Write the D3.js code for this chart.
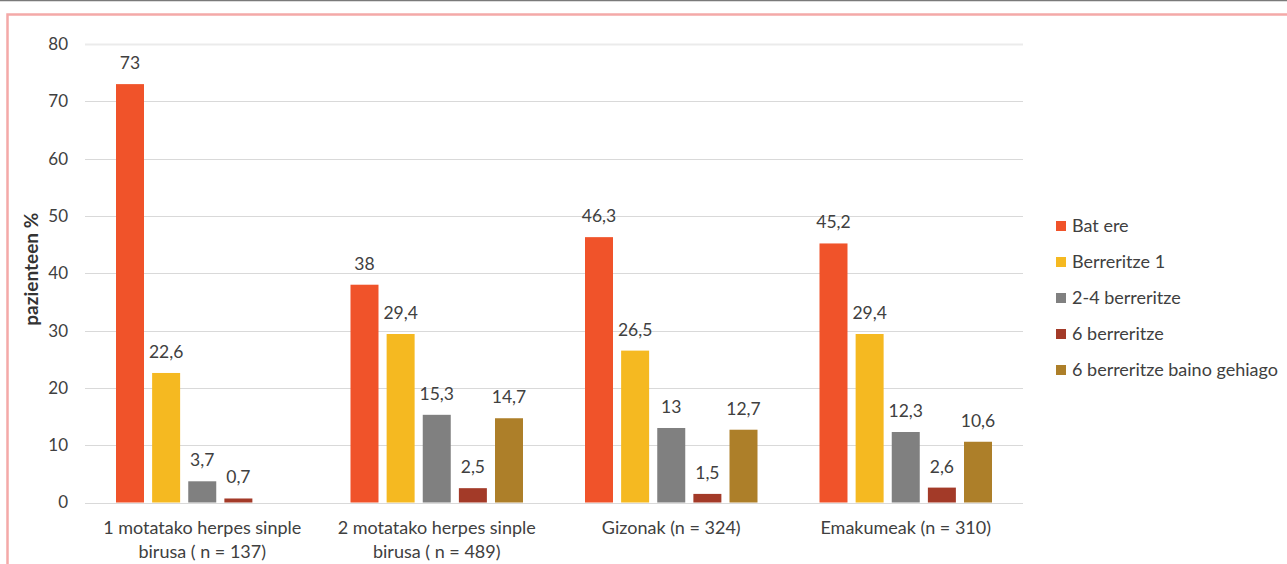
<!DOCTYPE html>
<html>
<head>
<meta charset="utf-8">
<script src="https://cdn.jsdelivr.net/npm/d3@7"></script>
<style>
  html, body { margin: 0; padding: 0; background: #fff; }
  svg { display: block; font-family: Lato, "Open Sans", sans-serif; }
</style>
</head>
<body>
<svg id="chart" width="1287" height="564"></svg>
<script>
// Categories (each label split into display lines)
const categories = [
  ["1 motatako herpes sinple", "birusa ( n = 137)"],
  ["2 motatako herpes sinple", "birusa ( n = 489)"],
  ["Gizonak (n = 324)"],
  ["Emakumeak (n = 310)"]
];
const seriesNames = ["Bat ere", "Berreritze 1", "2-4 berreritze", "6 berreritze", "6 berreritze baino gehiago"];
const seriesColors = ["#F0532A", "#F5B921", "#808080", "#A33A28", "#AD7F29"];
// Percentage of patients per series, one value per category (null = no bar)
const batEre = [73, 38, 46.3, 45.2];
const berreritze1 = [22.6, 29.4, 26.5, 29.4];
const berreritze24 = [3.7, 15.3, 13, 12.3];
const berreritze6 = [0.7, 2.5, 1.5, 2.6];
const berreritze6Plus = [null, 14.7, 12.7, 10.6];
const yTicks = [0, 10, 20, 30, 40, 50, 60, 70, 80];

const series = [batEre, berreritze1, berreritze24, berreritze6, berreritze6Plus];

const svg = d3.select("#chart");
const W = 1287, H = 564;

// Outer frame lines
svg.append("line").attr("x1", 0).attr("x2", W).attr("y1", 0.5).attr("y2", 0.5)
  .attr("stroke", "#7a7a7a").attr("stroke-width", 1.5);
svg.append("path")
  .attr("d", `M${W + 5},14.5 H7.5 V${H + 5}`)
  .attr("fill", "none").attr("stroke", "#F4A9A8").attr("stroke-width", 2.5);

const plot = { left: 85, right: 1023, top: 44, bottom: 502.5 };

const x0 = d3.scaleBand().domain(d3.range(categories.length))
  .range([plot.left, plot.right]).padding(0);
const groupPad = 31;
const x1 = d3.scaleBand().domain(d3.range(seriesNames.length))
  .range([groupPad, x0.bandwidth() - groupPad]).paddingInner(0.225).paddingOuter(0);
const y = d3.scaleLinear().domain([0, 80]).range([plot.bottom, plot.top]);

// Gridlines
svg.append("g").selectAll("line").data(yTicks).join("line")
  .attr("x1", plot.left).attr("x2", plot.right)
  .attr("y1", d => Math.round(y(d)) + 0.5).attr("y2", d => Math.round(y(d)) + 0.5)
  .attr("stroke", d => d === 80 ? "#ebebeb" : "#d9d9d9")
  .attr("stroke-width", d => d === 80 ? 2 : 1);

// Y axis labels
const yAxis = d3.axisLeft(y).tickValues(yTicks).tickSize(0).tickPadding(0);
const yg = svg.append("g").attr("transform", `translate(${plot.left - 17},0)`).call(yAxis);
yg.select(".domain").remove();
yg.selectAll("text").attr("font-size", 17).attr("fill", "#404040")
  .attr("font-family", "Lato, 'Open Sans', sans-serif");

// Y axis title
svg.append("text")
  .attr("transform", `translate(38,${(plot.top + plot.bottom) / 2 - 4}) rotate(-90)`)
  .attr("text-anchor", "middle").attr("font-size", 19).attr("font-weight", 700)
  .attr("fill", "#333").text("pazienteen %");

// Bars and value labels
const fmt = v => String(v).replace(".", ",");
const groups = svg.append("g").selectAll("g").data(categories).join("g")
  .attr("transform", (d, i) => `translate(${x0(i)},0)`);

groups.each(function (cat, ci) {
  const g = d3.select(this);
  const vals = series.map((s, si) => ({ si, v: s[ci] })).filter(d => d.v != null);
  g.selectAll("rect").data(vals).join("rect")
    .attr("x", d => x1(d.si)).attr("width", x1.bandwidth())
    .attr("y", d => y(d.v)).attr("height", d => y(0) - y(d.v))
    .attr("fill", d => seriesColors[d.si]);
  g.selectAll("text.val").data(vals).join("text").attr("class", "val")
    .attr("x", d => x1(d.si) + x1.bandwidth() / 2)
    .attr("y", d => y(d.v) - 15)
    .attr("text-anchor", "middle").attr("font-size", 17.5).attr("fill", "#404040")
    .text(d => fmt(d.v));
  // Category label
  const t = g.append("text").attr("text-anchor", "middle").attr("font-size", 18)
    .attr("fill", "#404040");
  cat.forEach((line, li) => {
    t.append("tspan").attr("x", x0.bandwidth() / 2).attr("y", 534 + li * 24).text(line);
  });
});

// Legend
const legend = svg.append("g").selectAll("g").data(seriesNames).join("g")
  .attr("transform", (d, i) => `translate(1056,${226 + i * 36})`);
legend.append("rect").attr("x", 0).attr("y", -5).attr("width", 10).attr("height", 10)
  .attr("fill", (d, i) => seriesColors[i]);
legend.append("text").attr("x", 16).attr("y", 6).attr("font-size", 18)
  .attr("fill", "#404040").text(d => d);
</script>
</body>
</html>
